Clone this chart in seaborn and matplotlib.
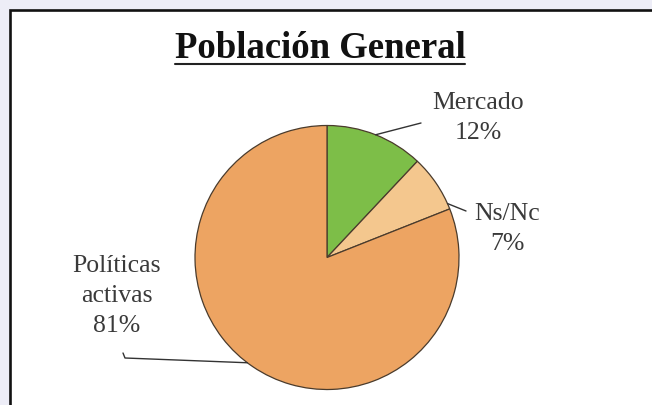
import numpy as np
import matplotlib
matplotlib.use("Agg")
import matplotlib.pyplot as plt
from matplotlib.patches import Rectangle
from matplotlib.lines import Line2D
import seaborn as sns

# ---- data ----
categories = ["Mercado", "Ns/Nc", "Políticas\nactivas"]
values = [12, 7, 81]
colors = ["#7DBE48", "#F4C78E", "#EDA462"]
title = "Población General"

sns.set_theme(style="white")
plt.rcParams["font.family"] = ["Liberation Serif", "DejaVu Serif"]

W, H = 652, 405
fig = plt.figure(figsize=(W / 100, H / 100), dpi=100)
fig.patch.set_facecolor("#EDEDF7")

# white frame with black border
fig.add_artist(Rectangle((9.5 / W, -0.2), 1.3, 1.2 - 9.5 / H,
                         transform=fig.transFigure, facecolor="white",
                         edgecolor="#111111", linewidth=1.9, zorder=0))

# pie geometry (pixels)
CX, CY, R = 327, 257.5, 132
ax = fig.add_axes([0, 0, 1, 1])
ax.set_axis_off()
ax.patch.set_alpha(0)


def p2d(px, py):
    return (px - CX) / R, (CY - py) / R


wedges, _ = ax.pie(values, colors=colors, startangle=90, counterclock=False,
                   radius=1.0, center=(0, 0),
                   wedgeprops=dict(edgecolor="#4A3B2C", linewidth=0.9))
ax.set_aspect("auto")
ax.set_xlim(-CX / R, (W - CX) / R)
ax.set_ylim(-(H - CY) / R, CY / R)

# label layout (pixel positions of label centres / leader line elbows)
anchor_frac = [0.5, 0.1, 0.49]
label_pos = [(478, 118), (507, 229), (117, 296)]
elbows = [[(421, 123)], [(466, 211)], [(125, 358), (123, 353)]]

for w, cat, val, fr, lp, elb in zip(wedges, categories, values, anchor_frac,
                                     label_pos, elbows):
    th = np.deg2rad(w.theta1 + fr * (w.theta2 - w.theta1))
    ax0 = (np.cos(th), np.sin(th))
    pts = [ax0] + [p2d(*e) for e in elb]
    xs, ys = zip(*pts)
    ax.plot(xs, ys, color="#333333", linewidth=1.0, zorder=3)
    tx, ty = p2d(*lp)
    ax.text(tx, ty, f"{cat}\n{val}%", ha="center", va="center",
            fontsize=18.5, color="#3A3A3A", linespacing=1.45)

t = fig.text(320 / W, 1 - 58 / H, title, ha="center", va="baseline",
             fontsize=26.5, fontweight="bold", color="#111111")
fig.canvas.draw()
bb = t.get_window_extent()
yline = H - 63.5
fig.add_artist(Line2D([bb.x0 / W, bb.x1 / W], [yline / H, yline / H],
                      transform=fig.transFigure, color="#222222",
                      linewidth=1.5))

fig.savefig("out.png", dpi=100, facecolor=fig.get_facecolor())
